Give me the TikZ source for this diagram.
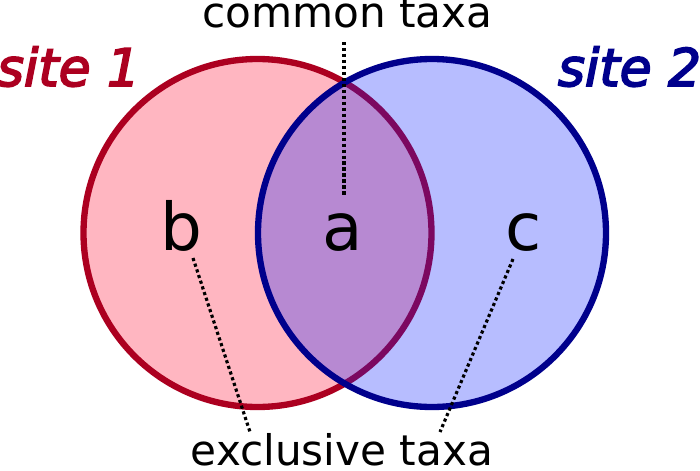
\documentclass[tikz,border=0pt]{standalone}
\usepackage{fontspec}
\setmainfont{DejaVu Sans}
\newfontfamily\sitefont{DejaVu Sans Oblique}
\newcommand\thicktext[1]{\special{pdf:literal direct 2 Tr 1.0 w}#1\special{pdf:literal direct 0 Tr}}
\usepackage{tikz}
\usepackage{xcolor}

\definecolor{siteonered}{RGB}{172,0,32}
\definecolor{siteonefill}{RGB}{255,182,193}
\definecolor{sitetwoblue}{RGB}{0,0,140}
\definecolor{sitetwofill}{RGB}{8,29,255}

\begin{document}
\begin{tikzpicture}[
    letter/.style={font=\fontsize{37.5}{40}\selectfont, anchor=base},
    taxa/.style={font=\fontsize{24}{28}\selectfont, anchor=base},
    sitelabel/.style={font=\sitefont\fontsize{29.5}{32}\selectfont, anchor=base},
    pointer/.style={line width=1.8pt, dash pattern=on 1.8pt off 1.6pt}
  ]
    \useasboundingbox (0,0) rectangle (14,9.4);
    % the two sites
    \filldraw[fill=siteonefill, draw=siteonered, line width=3.6pt] (5.15,4.74) circle (3.48);
    \fill[sitetwofill, fill opacity=0.29] (8.64,4.74) circle (3.48);
    \draw[sitetwoblue, line width=3.6pt] (8.64,4.74) circle (3.48);
    \node[sitelabel, text=siteonered] (site1) at (1.37,7.68) {\thicktext{site 1}};
    \node[sitelabel, text=sitetwoblue] (site2) at (12.59,7.68) {\thicktext{site 2}};
    % taxa letters
    \node[letter] (b) at (3.62,4.40) {b};
    \node[letter] (a) at (6.86,4.40) {a};
    \node[letter] (c) at (10.48,4.40) {c};
    % labels and pointers
    \node[taxa] (common) at (6.95,8.84) {common taxa};
    \node[taxa] (exclusive) at (6.84,0.10) {exclusive taxa};
    \coordinate (commonstart) at (6.88,8.56);
    \coordinate (commonend) at (6.88,5.50);
    \coordinate (bstart) at (3.86,4.24);
    \coordinate (bend) at (5.00,0.76);
    \coordinate (cstart) at (10.26,4.22);
    \coordinate (cend) at (8.80,0.76);
    \draw[pointer] (commonstart) -- (commonend);
    \draw[pointer] (bstart) -- (bend);
    \draw[pointer] (cstart) -- (cend);
\end{tikzpicture}
\end{document}
